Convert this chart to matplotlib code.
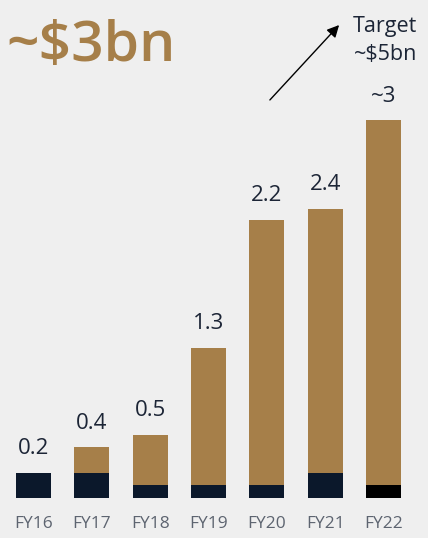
import matplotlib
matplotlib.use('Agg')
import matplotlib.pyplot as plt

plt.rcParams['font.family'] = ['Open Sans', 'DejaVu Sans']

years = ['FY16', 'FY17', 'FY18', 'FY19', 'FY20', 'FY21', 'FY22']
labels = ['0.2', '0.4', '0.5', '1.3', '2.2', '2.4', '~3']
totals = [0.2, 0.4, 0.5, 1.19, 2.2, 2.29, 2.99]   # bar heights as drawn
base = [0.2, 0.2, 0.1, 0.1, 0.1, 0.2, 0.1]        # dark bottom segment
base_colors = ['#0b182b'] * 6 + ['#000000']

gold = '#a67f49'
bg = '#efefef'

fig = plt.figure(figsize=(4.28, 5.38), dpi=100)
fig.patch.set_facecolor(bg)
ax = fig.add_axes([0, 0, 1, 1])
ax.set_facecolor(bg)

x = list(range(len(years)))
upper = [t - b for t, b in zip(totals, base)]
ax.bar(x, base, width=0.6, color=base_colors)
ax.bar(x, upper, bottom=base, width=0.6, color=gold)

for i in x:
    ax.text(i, totals[i] + 0.19, labels[i], ha='center', va='center',
            fontsize=16, color='#1c2536')
    ax.text(i, -0.205, years[i], ha='center', va='center',
            fontsize=12.5, color='#5d6470')

ax.set_xlim(-0.574, 6.763)
ax.set_ylim(-0.316, 3.94)
ax.axis('off')

fig.text(0.016, 0.912, '~$3bn', fontsize=41, color=gold, ha='left', va='center',
         fontweight='semibold')
fig.text(0.90, 0.950, 'Target', fontsize=15.5, color='#1c2536', ha='center', va='center')
fig.text(0.90, 0.898, '~$5bn', fontsize=15.5, color='#1c2536', ha='center', va='center')

ax.annotate('', xy=(341 / 428, 1 - 23 / 538), xytext=(268 / 428, 1 - 102 / 538),
            xycoords='figure fraction', textcoords='figure fraction',
            arrowprops=dict(arrowstyle='-|>', color='black', lw=1, mutation_scale=18))

plt.savefig('out.png', dpi=100, facecolor=bg)
